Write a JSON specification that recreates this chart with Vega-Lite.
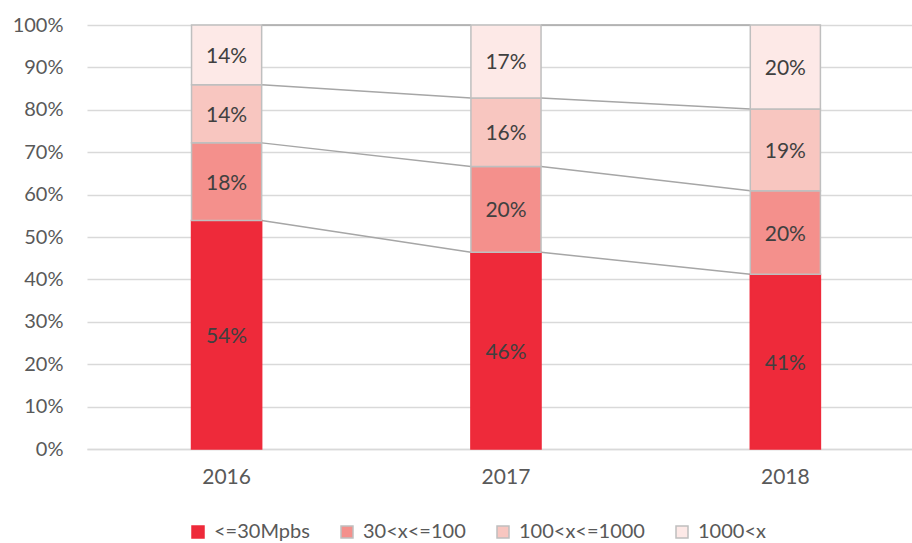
{
  "$schema": "https://vega.github.io/schema/vega-lite/v6.json",
  "width": 825,
  "height": 424,
  "autosize": {"type": "none"},
  "padding": {"left": 87, "top": 25, "right": 0, "bottom": 94},
  "config": {
    "view": {"stroke": null},
    "font": "Lato",
    "axis": {"labelFont": "Lato", "labelFontSize": 20, "labelColor": "#595959", "titleFont": "Lato"},
    "legend": {"labelFont": "Lato", "labelFontSize": 20, "labelColor": "#595959"}
  },
  "datasets": {
    "shares": [
      {"year": "2016", "cat": "<=30Mpbs", "k": 1, "share": 0.539},
      {"year": "2016", "cat": "30<x<=100", "k": 2, "share": 0.183},
      {"year": "2016", "cat": "100<x<=1000", "k": 3, "share": 0.137},
      {"year": "2016", "cat": "1000<x", "k": 4, "share": 0.141},
      {"year": "2017", "cat": "<=30Mpbs", "k": 1, "share": 0.464},
      {"year": "2017", "cat": "30<x<=100", "k": 2, "share": 0.202},
      {"year": "2017", "cat": "100<x<=1000", "k": 3, "share": 0.162},
      {"year": "2017", "cat": "1000<x", "k": 4, "share": 0.172},
      {"year": "2018", "cat": "<=30Mpbs", "k": 1, "share": 0.412},
      {"year": "2018", "cat": "30<x<=100", "k": 2, "share": 0.197},
      {"year": "2018", "cat": "100<x<=1000", "k": 3, "share": 0.193},
      {"year": "2018", "cat": "1000<x", "k": 4, "share": 0.198}
    ],
    "links": [
      {"from": "2016", "to": "2017", "a": 0.539, "b": 0.464},
      {"from": "2016", "to": "2017", "a": 0.722, "b": 0.666},
      {"from": "2016", "to": "2017", "a": 0.859, "b": 0.828},
      {"from": "2016", "to": "2017", "a": 1.0, "b": 1.0},
      {"from": "2017", "to": "2018", "a": 0.464, "b": 0.412},
      {"from": "2017", "to": "2018", "a": 0.666, "b": 0.609},
      {"from": "2017", "to": "2018", "a": 0.828, "b": 0.802},
      {"from": "2017", "to": "2018", "a": 1.0, "b": 1.0}
    ]
  },
  "layer": [
    {
      "data": {"name": "links"},
      "mark": {"type": "rule", "color": "#A6A6A6", "strokeWidth": 1.5},
      "encoding": {
        "x": {"field": "from", "type": "ordinal", "bandPosition": 1,
              "scale": {"domain": ["2016", "2017", "2018"], "paddingInner": 0.749, "paddingOuter": 0.351, "align": 0.533},
              "axis": {"title": null, "labelAngle": 0, "labelFontSize": 21, "domainColor": "#D9D9D9", "domainWidth": 1.5, "ticks": false, "labelPadding": 17}},
        "x2": {"field": "to", "bandPosition": 0},
        "y": {"field": "a", "type": "quantitative"},
        "y2": {"field": "b"}
      }
    },
    {
      "data": {"name": "shares"},
      "mark": {"type": "bar", "strokeWidth": 1.5},
      "encoding": {
        "x": {"field": "year", "type": "ordinal"},
        "y": {"field": "share", "type": "quantitative", "stack": "zero",
              "scale": {"domain": [0, 1]},
              "axis": {"title": null, "format": ".0%", "values": [0, 0.1, 0.2, 0.3, 0.4, 0.5, 0.6, 0.7, 0.8, 0.9, 1.0],
                       "domain": false, "ticks": false, "gridColor": "#D9D9D9", "gridWidth": 1.5, "labelPadding": 24}},
        "order": {"field": "k", "type": "quantitative"},
        "color": {"field": "cat", "type": "nominal", "title": null,
                  "scale": {"domain": ["<=30Mpbs", "30<x<=100", "100<x<=1000", "1000<x"],
                            "range": ["#EE2A3A", "#F4908C", "#F8C6C0", "#FDE9E7"]},
                  "legend": {"orient": "none", "legendX": 101, "legendY": 497, "direction": "horizontal", "symbolType": "square", "symbolSize": 144, "symbolStrokeWidth": 1.5, "columnPadding": 27, "labelOffset": 6}},
        "stroke": {"field": "cat", "type": "nominal", "title": null,
                   "scale": {"domain": ["<=30Mpbs", "30<x<=100", "100<x<=1000", "1000<x"],
                             "range": ["#EE2A3A", "#BFBFBF", "#BFBFBF", "#BFBFBF"]}}
      }
    },
    {
      "data": {"name": "shares"},
      "mark": {"type": "text", "fontSize": 21, "color": "#404040", "font": "Lato", "baseline": "middle", "dy": 2},
      "encoding": {
        "x": {"field": "year", "type": "ordinal"},
        "y": {"field": "share", "type": "quantitative", "stack": "zero", "bandPosition": 0.5},
        "order": {"field": "k", "type": "quantitative"},
        "text": {"field": "share", "type": "quantitative", "format": ".0%"}
      }
    }
  ]
}
